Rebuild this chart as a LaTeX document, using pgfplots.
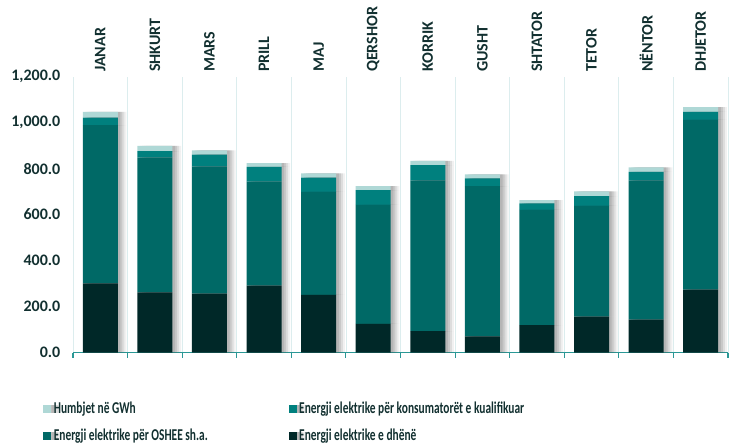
\documentclass[border=0pt]{standalone}
\usepackage{pgfplots}
\usepackage{pgfplotstable}
\pgfplotsset{compat=1.18}
\usepackage{fontspec}
\setmainfont{Carlito}
\usetikzlibrary{shadows}
\definecolor{cHum}{HTML}{AFD8D6}
\definecolor{cKua}{HTML}{00807E}
\definecolor{cOsh}{HTML}{006966}
\definecolor{cDhe}{HTML}{002828}
\definecolor{cTxt}{HTML}{123030}
\definecolor{cGrid}{HTML}{DCEDEE}
\definecolor{cAxis}{HTML}{2A9896}
\pgfplotstableread{
x dhene oshee kual humb
0 301 688 32 25
1 262 585 29 23
2 256 553 51 19
3 291 452 64 17
4 251 448 61 19
5 125 517 64 18
6 93 655 67 18
7 70 654 33 18
8 119 501 29 14
9 156 482 42 21
10 143 606 37 19
11 273 739 34 21
}\datatable
\newcommand{\legtxt}[1]{\scalebox{0.69}[1]{#1}}
\begin{document}
\begin{tikzpicture}
\useasboundingbox (-54.75pt,-68.6pt) rectangle (495pt,264.4pt);
\begin{axis}[
  at={(0,0)}, anchor=south west,
  scale only axis, width=491.25pt, height=207pt,
  xmin=-0.5, xmax=11.5, ymin=0, ymax=1200,
  ybar stacked, bar width=0.64,
  axis x line*=bottom, axis y line*=left,
  y axis line style={draw=none},
  x axis line style={cAxis, line width=0.8pt, -},
  xtick={-0.5,0.5,...,11.5}, xticklabels={,,,,,,,,,,,,},
  xmajorgrids, major x grid style={cGrid, line width=0.6pt},
  x tick style={cAxis, line width=0.8pt},
  tick align=outside, major tick length=4pt,
  ytick={0,200,...,1200}, ytick style={draw=none},
  yticklabel style={font=\bfseries\fontsize{12}{14}\selectfont, text=cTxt, xshift=-2pt},
  /pgf/number format/.cd, fixed, fixed zerofill, precision=1, 1000 sep={,}, assume math mode=true,
  /pgfplots/.cd,
  legend columns=2, reverse legend,
  legend style={at={(-0.052,-0.158)}, anchor=north west, draw=none, fill=none,
    font=\bfseries\fontsize{12.4}{13}\selectfont, text=cTxt, row sep=6pt,
    cells={anchor=west, inner xsep=1pt},
    /tikz/every even column/.append style={column sep=0pt}},
  every axis plot/.append style={draw=none,
    drop shadow={shadow xshift=2pt, shadow yshift=0pt, fill=black!70, opacity=0.15},
    drop shadow={shadow xshift=3.5pt, shadow yshift=0pt, fill=black!70, opacity=0.15},
    drop shadow={shadow xshift=5pt, shadow yshift=0pt, fill=black!70, opacity=0.12},
    drop shadow={shadow xshift=6.5pt, shadow yshift=0pt, fill=black!70, opacity=0.08}},
]
\addplot[fill=cDhe, legend image code/.code={\fill[cDhe] (0pt,-3pt) rectangle (6pt,3pt);}] table[x=x, y=dhene] {\datatable};
\addlegendentry{\legtxt{Energji elektrike e dhënë}}
\addplot[fill=cOsh, legend image code/.code={\fill[cOsh] (0pt,-3pt) rectangle (6pt,3pt);}] table[x=x, y=oshee] {\datatable};
\addlegendentry{\makebox[174pt][l]{\legtxt{Energji elektrike për OSHEE sh.a.}}}
\addplot[fill=cKua, legend image code/.code={\fill[cKua] (0pt,-3pt) rectangle (6pt,3pt);}] table[x=x, y=kual] {\datatable};
\addlegendentry{\legtxt{Energji elektrike për konsumatorët e kualifikuar}}
\addplot[fill=cHum, legend image code/.code={\fill[cHum] (0pt,-3pt) rectangle (6pt,3pt);}] table[x=x, y=humb] {\datatable};
\addlegendentry{\makebox[174pt][l]{\legtxt{Humbjet në GWh}}}
\end{axis}
\begin{axis}[
  at={(0,0)}, anchor=south west,
  scale only axis, width=491.25pt, height=207pt,
  xmin=-0.5, xmax=11.5, ymin=0, ymax=1200,
  axis x line*=top, axis y line=none,
  x axis line style={draw=none},
  xtick={0,...,11},
  xticklabels={JANAR,SHKURT,MARS,PRILL,MAJ,QERSHOR,KORRIK,GUSHT,SHTATOR,TETOR,NËNTOR,DHJETOR},
  major tick length=0pt,
  xticklabel style={rotate=90, anchor=west, font=\bfseries\fontsize{12}{14}\selectfont, text=cTxt},
]
\end{axis}
\end{tikzpicture}
\end{document}
